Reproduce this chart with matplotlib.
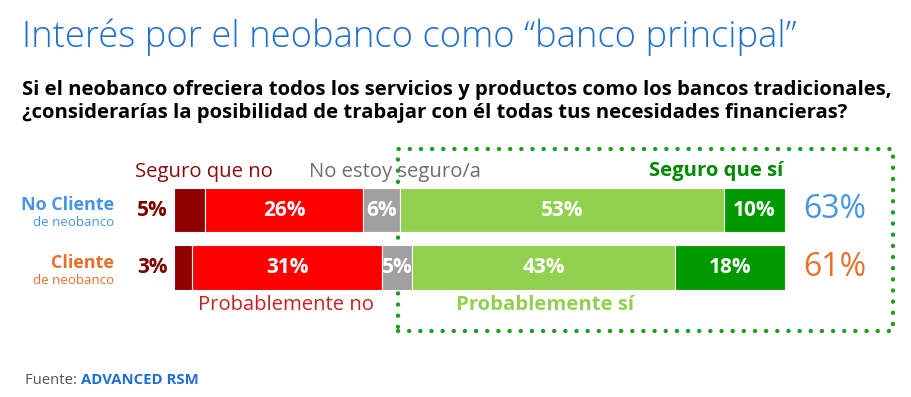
import matplotlib
matplotlib.use("Agg")
import matplotlib.pyplot as plt
from matplotlib.patches import Rectangle
import numpy as np

plt.rcParams['font.family'] = ['Open Sans', 'DejaVu Sans']

# ---- data ----
groups = ["No Cliente", "Cliente"]
group_sub = ["de neobanco", "de neobanco"]
categories = ["Seguro que no", "Probablemente no", "No estoy seguro/a",
              "Probablemente sí", "Seguro que sí"]
values_no_cliente = [5, 26, 6, 53, 10]
values_cliente = [3, 31, 5, 43, 18]
totals = ["63%", "61%"]

seg_colors = ["#900000", "#FF0000", "#A0A0A0", "#92D050", "#009A00"]
group_colors = ["#4894E4", "#E8702A"]

W, H = 912, 397
fig = plt.figure(figsize=(W / 100, H / 100), dpi=100)
fig.patch.set_facecolor("white")

def fx(x):
    return x / W

def fy(y):
    return 1 - y / H

# bar axes
x0, x1 = 174, 785
c0, c1 = 210, 267.5
step = c1 - c0
top = c0 - step / 2
bot = c1 + step / 2
ax = fig.add_axes([fx(x0), fy(bot), (x1 - x0) / W, (bot - top) / H])
ax.set_xlim(0, 100)
ax.set_ylim(1.5, -0.5)
ax.axis("off")
ax.patch.set_visible(False)

rows = [values_no_cliente, values_cliente]
for i, vals in enumerate(rows):
    left = 0
    for j, v in enumerate(vals):
        ax.barh(i, v, left=left, height=0.77, color=seg_colors[j],
                edgecolor="white", linewidth=0.8, zorder=2)
        if j == 0:
            ax.text(-1.0, i, f"{v}%", ha="right", va="center", color="#7A0000",
                    fontsize=15, fontweight="bold")
        else:
            ax.text(left + v / 2, i, f"{v}%", ha="center", va="center",
                    color="white", fontsize=15, fontweight="bold", zorder=3)
        left += v
    ax.text(103, i, totals[i], ha="left", va="center", color=group_colors[i],
            fontsize=23)

# group labels
for cy, g, s, col in [(c0, groups[0], group_sub[0], group_colors[0]),
                      (c1, groups[1], group_sub[1], group_colors[1])]:
    fig.text(fx(114), fy(cy), g, ha="right", va="baseline",
             color=col, fontsize=13, fontweight="bold")
    fig.text(fx(114), fy(cy + 16), s, ha="right", va="baseline",
             color=col, fontsize=9.5)

# category labels
fs_cat = 14.6
fig.text(fx(135), fy(172), categories[0], ha="left", va="center",
         color="#8B0A0A", fontsize=fs_cat)
fig.text(fx(309), fy(172), categories[2], ha="left", va="center",
         color="#6E6E6E", fontsize=fs_cat)
fig.text(fx(783), fy(171), categories[4], ha="right", va="center",
         color="#008A00", fontsize=fs_cat, fontweight="bold")
fig.text(fx(198), fy(305), categories[1], ha="left", va="center",
         color="#CC1F1F", fontsize=fs_cat)
fig.text(fx(456), fy(305), categories[3], ha="left", va="center",
         color="#92D050", fontsize=fs_cat, fontweight="bold")

# dotted rectangle
rect = Rectangle((fx(398), fy(331)), (893 - 398) / W, (331 - 149) / H,
                 transform=fig.transFigure, fill=False, edgecolor="#1E9E1E",
                 linewidth=3.2, linestyle=(0, (0.01, 2.5)), zorder=-1)
rect.set_capstyle("round")
fig.add_artist(rect)

# titles
fig.text(fx(22), fy(47), "Interés por el neobanco como “banco principal”",
         ha="left", va="baseline", color="#1F6FD0", fontsize=26.2,
         fontweight="light")
fig.text(fx(22), fy(95),
         "Si el neobanco ofreciera todos los servicios y productos como los bancos tradicionales,",
         ha="left", va="baseline", color="black", fontsize=14.6, fontweight="bold")
fig.text(fx(22), fy(118),
         "¿considerarías la posibilidad de trabajar con él todas tus necesidades financieras?",
         ha="left", va="baseline", color="black", fontsize=14.6, fontweight="bold")

# source
t = fig.text(fx(25), fy(384), "Fuente: ", ha="left", va="baseline",
             color="#555555", fontsize=10.7)
fig.canvas.draw()
bb = t.get_window_extent()
fig.text(bb.x1 / W, fy(384), "ADVANCED RSM", ha="left", va="baseline",
         color="#1F6FD0", fontsize=10.7, fontweight="bold")

fig.savefig("out.png", dpi=100, facecolor="white")
